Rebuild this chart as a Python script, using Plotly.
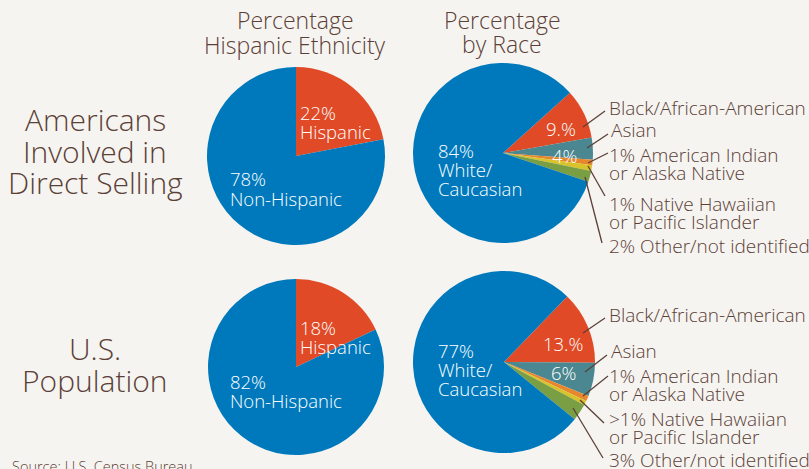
import plotly.graph_objects as go

W, H = 809, 469

# ---- data ----
eth_labels = ["Hispanic", "Non-Hispanic"]
eth_direct = [22, 78]
eth_us = [18, 82]

race_labels = ["Black/African-American", "Asian", "American Indian or Alaska Native",
               "Native Hawaiian or Pacific Islander", "Other/not identified", "White/Caucasian"]
race_direct = [9, 4, 1, 1, 2, 84]
race_us = [13, 6, 1, 0.8, 3, 77]

col_titles = [["Percentage", "Hispanic Ethnicity"], ["Percentage", "by Race"]]
row_titles = [["Americans", "Involved in", "Direct Selling"], ["U.S.", "Population"]]

# ---- styles ----
BG = "#f6f4f0"
TXT = "#5b4037"
FONT = "Open Sans"
WEIGHT = 300
eth_colors = ["#e04a26", "#0079bc"]
race_colors = ["#e04a26", "#4a8790", "#e8862e", "#d8c42a", "#7a9e44", "#0079bc"]


def px(x, y):
    return x / W, 1 - y / H


def dom(cx, cy, r):
    return dict(x=[(cx - r) / W, (cx + r) / W], y=[1 - (cy + r) / H, 1 - (cy - r) / H])


fig = go.Figure()


def add_pie(labels, values, colors, domain, rotation):
    fig.add_trace(go.Pie(labels=labels, values=values, sort=False, direction="clockwise",
                         rotation=rotation, domain=domain, textinfo="none", hoverinfo="label+percent",
                         marker=dict(colors=colors, line=dict(width=0)), showlegend=False))


add_pie(eth_labels, eth_direct, eth_colors, dom(296, 156, 89), 0)
add_pie(eth_labels, eth_us, eth_colors, dom(296, 367, 88), 0)
add_pie(race_labels, race_direct, race_colors, dom(503, 153, 90), 48)
add_pie(race_labels, race_us, race_colors, dom(504, 362, 91), 44)

ann = []


def text(x, y, lines, size=19, color=TXT, xanchor="left", step=18):
    if isinstance(lines, str):
        lines = [lines]
    for i, s in enumerate(lines):
        ax, ay = px(x, y + i * step)
        ann.append(dict(x=ax, y=ay, xref="paper", yref="paper", text=s, showarrow=False,
                        xanchor=xanchor, yanchor="middle",
                        font=dict(family=FONT, size=size, color=color, weight=WEIGHT)))


# column headers
text(295, 20, col_titles[0], size=23, xanchor="center", step=25)
text(502, 20, col_titles[1], size=23, xanchor="center", step=24)
# row headers
text(95, 119, row_titles[0], size=30, xanchor="center", step=32)
text(95, 348, row_titles[1], size=30, xanchor="center", step=32)

# inside labels
WH = "white"
IS = 18.5
text(298, 112, [f"{eth_direct[0]}%", "Hispanic"], size=IS, color=WH, step=19)
text(228, 179, [f"{eth_direct[1]}%", "Non-Hispanic"], size=IS, color=WH, step=19)
text(298, 327, [f"{eth_us[0]}%", "Hispanic"], size=IS, color=WH, step=19)
text(228, 381, [f"{eth_us[1]}%", "Non-Hispanic"], size=IS, color=WH, step=19)
text(436, 150, [f"{race_direct[5]}%", "White/", "Caucasian"], size=IS, color=WH, step=19)
text(436, 350, [f"{race_us[5]}%", "White/", "Caucasian"], size=IS, color=WH, step=19)
text(561, 128, f"{race_direct[0]}.%", size=IS, color=WH, xanchor="center")
text(565, 155, f"{race_direct[1]}%", size=IS, color=WH, xanchor="center")
text(563, 343, f"{race_us[0]}.%", size=IS, color=WH, xanchor="center")
text(564, 372, f"{race_us[1]}%", size=IS, color=WH, xanchor="center")

# outside labels
text(607, 108, "Black/African-American")
text(609, 130, "Asian")
text(607, 155, ["1% American Indian", "or Alaska Native"])
text(607, 204, ["1% Native Hawaiian", "or Pacific Islander"])
text(607, 246, "2% Other/not identified")
text(607, 315, "Black/African-American")
text(609, 351, "Asian")
text(607, 376, ["1% American Indian", "or Alaska Native"])
text(607, 419, [">1% Native Hawaiian", "or Pacific Islander"])
text(607, 460, "3% Other/not identified")

text(10, 466, "Source: U.S. Census Bureau", size=14.5)

shapes = []
leaders = [
    ((583, 127), (605, 111)),
    ((587, 148), (608, 134)),
    ((588, 163), (608, 153)),
    ((588, 166), (605, 196)),
    ((585, 177), (602, 243)),
    ((583, 333), (605, 318)),
    ((585, 372), (607, 355)),
    ((583, 396), (608, 376)),
    ((580, 400), (604, 423)),
    ((573, 408), (603, 458)),
]
for (x0, y0), (x1, y1) in leaders:
    a0, b0 = px(x0, y0)
    a1, b1 = px(x1, y1)
    shapes.append(dict(type="line", xref="paper", yref="paper", x0=a0, y0=b0, x1=a1, y1=b1,
                       line=dict(color=TXT, width=1.3)))

fig.update_layout(width=W, height=H, margin=dict(l=0, r=0, t=0, b=0),
                  paper_bgcolor=BG, plot_bgcolor=BG, annotations=ann, shapes=shapes,
                  font=dict(family=FONT, color=TXT))

fig.write_html("out.html", config={"displayModeBar": False},
               post_script="document.body.style.margin='0';document.body.style.background='" + BG + "';")
